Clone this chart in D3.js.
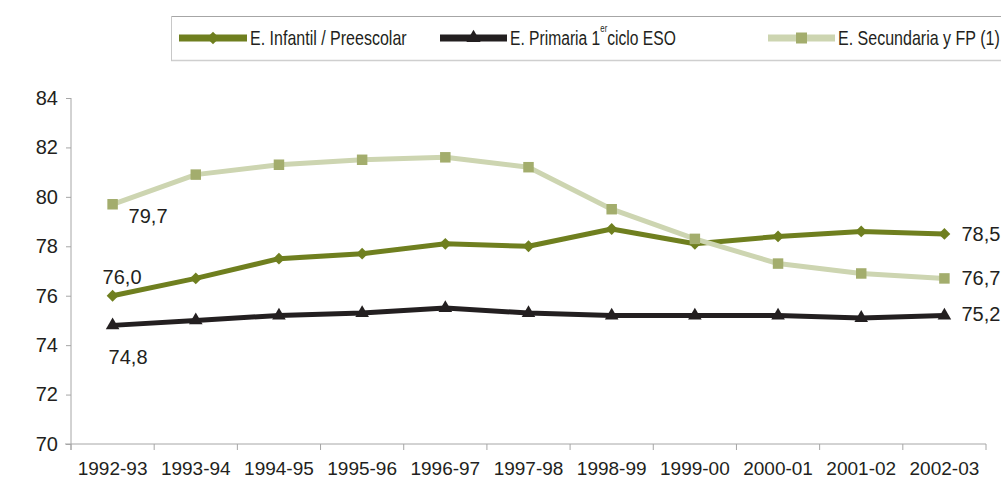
<!DOCTYPE html>
<html>
<head>
<meta charset="utf-8">
<script src="https://cdn.jsdelivr.net/npm/d3@7"></script>
<style>
  body { margin: 0; background: #fff; }
  svg { display: block; font-family: "Liberation Sans", Arial, sans-serif; }
</style>
</head>
<body>
<div id="chart"></div>
<script>
const years = ["1992-93","1993-94","1994-95","1995-96","1996-97","1997-98","1998-99","1999-00","2000-01","2001-02","2002-03"];
const infantil = [76.0, 76.7, 77.5, 77.7, 78.1, 78.0, 78.7, 78.1, 78.4, 78.6, 78.5];
const primaria = [74.8, 75.0, 75.2, 75.3, 75.5, 75.3, 75.2, 75.2, 75.2, 75.1, 75.2];
const secundaria = [79.7, 80.9, 81.3, 81.5, 81.6, 81.2, 79.5, 78.3, 77.3, 76.9, 76.7];
const yTicks = [70, 72, 74, 76, 78, 80, 82, 84];
const legendNames = ["E. Infantil / Preescolar", "E. Primaria 1", "E. Secundaria y FP (1)"];

const width = 1001, height = 483;

const svg = d3.select("#chart").append("svg")
  .attr("width", width)
  .attr("height", height);

let x = d3.scaleBand().domain(years).range([71, 986]);
let y = d3.scaleLinear().domain([70, 84]).range([444, 98]);

const fmt = v => d3.format(".1f")(v).replace(".", ",");

// diamond = square turned 45 degrees
const diamond = {
  draw(ctx, size) {
    const r = Math.sqrt(size / 2);
    ctx.moveTo(0, -r); ctx.lineTo(r, 0); ctx.lineTo(0, r); ctx.lineTo(-r, 0); ctx.closePath();
  }
};

// series definitions (style only)
const series = [
  {values: infantil, line: "#6f7f1f", marker: "#6f7f1f", shape: diamond, size: 70, width: 5},
  {values: primaria, line: "#231f20", marker: "#231f20", shape: d3.symbolTriangle, size: 80, width: 5},
  {values: secundaria, line: "#cdd5b1", marker: "#a3ad6d", shape: d3.symbolSquare, size: 110, width: 5}
];

// axes
const yAxis = d3.axisLeft(y).tickValues(yTicks).tickSize(5).tickFormat(d3.format("d"));
const xAxis = d3.axisBottom(x).tickSize(0).tickSizeOuter(0);

svg.append("g")
  .attr("transform", "translate(71,0)")
  .call(yAxis)
  .call(g => g.select(".domain").attr("stroke", "#a6a6a6").attr("d", "M0,98V450"))
  .call(g => g.selectAll(".tick line").attr("stroke", "#a6a6a6"))
  .call(g => g.selectAll(".tick text").attr("x", -13).attr("fill", "#231f20").style("font-size", "20px").style("font-family", "inherit"));

const gx = svg.append("g")
  .attr("transform", "translate(0,444)")
  .call(xAxis)
  .call(g => g.select(".domain").attr("stroke", "#a6a6a6").attr("d", "M65,0H986"))
  .call(g => g.selectAll(".tick text").attr("y", 18).attr("fill", "#231f20").style("font-size", "19px").style("font-family", "inherit"));

// band boundary ticks
gx.selectAll("line.bound")
  .data(years.concat(["end"]))
  .join("line")
  .attr("class", "bound")
  .attr("x1", (d, i) => 71 + i * x.bandwidth())
  .attr("x2", (d, i) => 71 + i * x.bandwidth())
  .attr("y1", 0).attr("y2", 6)
  .attr("stroke", "#a6a6a6");

const cx = d => x(d) + x.bandwidth() / 2;

// lines and markers
series.forEach(s => {
  const line = d3.line().x((d, i) => cx(years[i])).y(d => y(d));
  svg.append("path")
    .datum(s.values)
    .attr("d", line)
    .attr("fill", "none")
    .attr("stroke", s.line)
    .attr("stroke-width", s.width)
    .attr("stroke-linejoin", "round");
  svg.append("g").selectAll("path")
    .data(s.values)
    .join("path")
    .attr("transform", (d, i) => `translate(${cx(years[i])},${y(d)})`)
    .attr("d", d3.symbol().type(s.shape).size(s.size))
    .attr("fill", s.marker);
});

// data labels at first and last points
const labels = [
  {vals: secundaria, idx: 0, dx: 16, dy: 12},
  {vals: infantil, idx: 0, dx: -10, dy: -19},
  {vals: primaria, idx: 0, dx: -4, dy: 32},
  {vals: infantil, idx: 10, dx: 17, dy: 0},
  {vals: secundaria, idx: 10, dx: 17, dy: 0},
  {vals: primaria, idx: 10, dx: 17, dy: -1}
];
svg.append("g").selectAll("text")
  .data(labels)
  .join("text")
  .attr("x", d => cx(years[d.idx]) + d.dx)
  .attr("y", d => y(d.vals[d.idx]) + d.dy)
  .attr("dominant-baseline", "central")
  .attr("fill", "#231f20")
  .style("font-size", "20px")
  .text(d => fmt(d.vals[d.idx]));

// legend
const legend = svg.append("g");
legend.append("line").attr("x1", 171).attr("x2", 1001).attr("y1", 16.5).attr("y2", 16.5).attr("stroke", "#a6a6a6");
legend.append("line").attr("x1", 171).attr("x2", 1001).attr("y1", 60.5).attr("y2", 60.5).attr("stroke", "#cfcfcf").attr("stroke-width", 1.5);
legend.append("line").attr("x1", 171.5).attr("x2", 171.5).attr("y1", 16).attr("y2", 61).attr("stroke", "#c8c8c8");

const legendItems = [
  {s: series[0], x0: 179, x1: 247, tw: 157},
  {s: series[1], x0: 440, x1: 507, tw: 166},
  {s: series[2], x0: 768, x1: 835, tw: 162}
];
legendItems.forEach((d, i) => {
  const ly = 38;
  legend.append("line")
    .attr("x1", d.x0).attr("x2", d.x1).attr("y1", ly).attr("y2", ly)
    .attr("stroke", d.s.line).attr("stroke-width", 7);
  legend.append("path")
    .attr("transform", `translate(${(d.x0 + d.x1) / 2},${ly})`)
    .attr("d", d3.symbol().type(d.s.shape).size(d.s.size * 1.1))
    .attr("fill", d.s.marker);
  const tg = legend.append("g");
  const t = tg.append("text")
    .attr("x", 0).attr("y", 0)
    .attr("dominant-baseline", "central")
    .attr("fill", "#231f20")
    .style("font-size", "20px")
    .text(legendNames[i]);
  if (i === 1) {
    t.append("tspan").attr("dy", -9).style("font-size", "10px").text("er");
    t.append("tspan").attr("dy", 9).text("ciclo ESO");
  }
  // squeeze to a condensed look
  const w = t.node().getBBox().width;
  tg.attr("transform", `translate(${d.x1 + 3},${ly}) scale(${d.tw / w},1)`);
});
</script>
</body>
</html>
